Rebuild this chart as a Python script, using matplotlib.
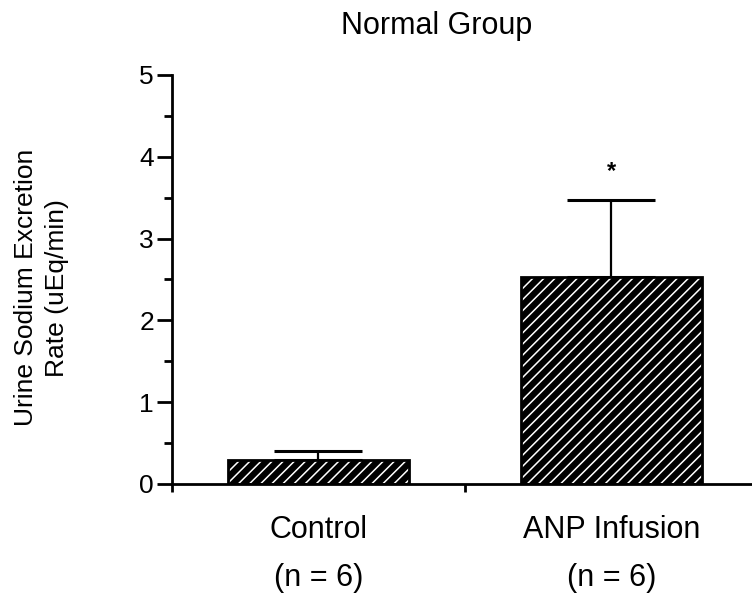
import numpy as np
import matplotlib.pyplot as plt

plt.rcParams['font.family'] = ['Liberation Sans', 'DejaVu Sans']
plt.rcParams['hatch.linewidth'] = 1.1

groups = ['Control\n(n = 6)', 'ANP Infusion\n(n = 6)']
means = [0.29, 2.53]
sem = [0.11, 0.94]
marks = ['', '*']

fig = plt.figure(figsize=(7.52, 5.97), dpi=100)
ax = fig.add_axes([0.2287, 0.1893, 0.779, 0.6851])

pos = np.arange(len(groups)) + 0.5
w = 0.62
# black fill with white diagonal stripes, then a black outline on top
ax.bar(pos, means, w, color='black', edgecolor='white', hatch='///', linewidth=0, zorder=2)
ax.bar(pos, means, w, fill=False, edgecolor='black', linewidth=2, zorder=3)
ax.errorbar(pos, means, yerr=[np.zeros(len(sem)), sem], fmt='none', ecolor='black',
            elinewidth=1.6, capsize=32, capthick=2.2, zorder=1)
for x, m, s, t in zip(pos, means, sem, marks):
    if t:
        ax.text(x, m + s + 0.35, t, ha='center', va='center', fontsize=17, fontweight='bold')

ax.set_xlim(0, 2)
ax.set_ylim(0, 5)
ax.set_xticks(pos)
ax.set_xticklabels(groups, fontsize=22, linespacing=1.8)
ax.set_xticks([0, 1, 2], minor=True)
ax.tick_params(axis='x', which='major', length=0, pad=22)
ax.tick_params(axis='x', which='minor', length=6, width=2, direction='out')

ax.set_yticks(np.arange(0, 6, 1))
ax.set_yticks(np.arange(0.5, 5, 1), minor=True)
ax.tick_params(axis='y', which='major', length=11, width=2, labelsize=19, pad=2)
ax.tick_params(axis='y', which='minor', length=6, width=2)

for s in ['top', 'right']:
    ax.spines[s].set_visible(False)
for s in ['left', 'bottom']:
    ax.spines[s].set_linewidth(2)

ax.set_ylabel('Urine Sodium Excretion\nRate (uEq/min)', fontsize=19, linespacing=1.4)
ax.yaxis.set_label_coords(-0.175, 0.48)
fig.text(0.58, 0.957, 'Normal Group', ha='center', va='center', fontsize=22)

fig.savefig('out.png', dpi=100)
